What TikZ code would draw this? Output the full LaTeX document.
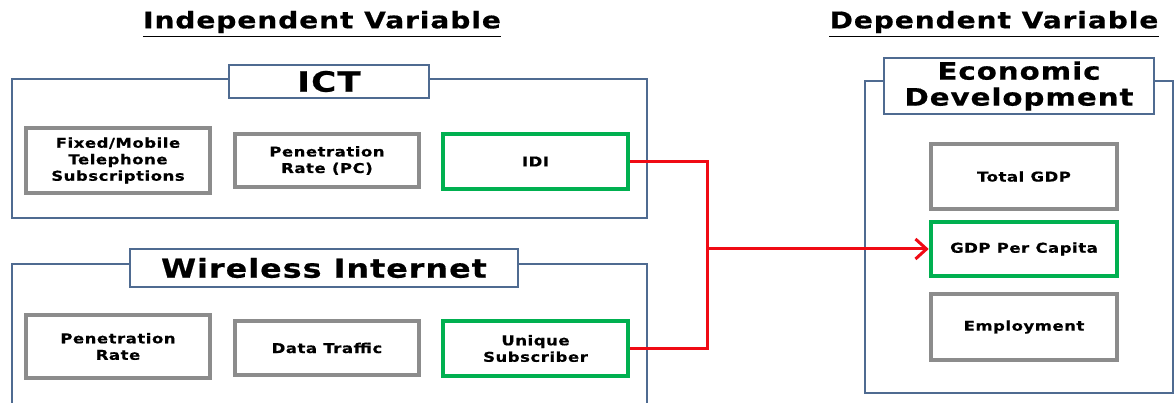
\documentclass[tikz,border=0pt]{standalone}
\usepackage{fontspec}
\setmainfont{DejaVu Sans}[FakeStretch=1.22,LetterSpace=4,FakeBold=0.6]
\usetikzlibrary{arrows.meta}
\definecolor{outerblue}{RGB}{79,107,145}
\definecolor{boxgray}{RGB}{140,140,140}
\definecolor{hlgreen}{RGB}{0,176,80}
\definecolor{linered}{RGB}{240,10,20}
\begin{document}
\begin{tikzpicture}[x=1pt,y=-1pt,
  outerbox/.style={draw=outerblue, line width=2.6pt, inner sep=0pt},
  titlebox/.style={draw=outerblue, line width=2.6pt, fill=white, inner sep=0pt, align=center, font=\bfseries},
  itembox/.style={draw=boxgray, line width=3.6pt, fill=white, inner sep=0pt, align=center,
     font=\bfseries\fontsize{13.5}{16.5}\selectfont},
  keybox/.style={itembox, draw=hlgreen, line width=4.6pt},
  header/.style={inner sep=0pt, font=\bfseries\fontsize{23}{26}\selectfont},
  redline/.style={draw=linered, line width=3pt}
]
\useasboundingbox (0,0) rectangle (1175,403);
\clip (0,0) rectangle (1175,403);
\fill[white] (0,0) rectangle (1175,403);

% headers
\node[header] (indep) at (322,22) {Independent Variable};
\node[header] (dep) at (994,22) {Dependent Variable};
\draw[line width=1.5pt] ([yshift=-3pt]indep.south west) -- ([yshift=-3pt]indep.south east);
\draw[line width=1.5pt] ([yshift=-3pt]dep.south west) -- ([yshift=-3pt]dep.south east);

% ICT group
\node[outerbox, minimum width=635pt, minimum height=139pt] (ictouter) at (329.5,148.5) {};
\node[titlebox, minimum width=200pt, minimum height=33pt, font=\bfseries\fontsize{28}{30}\selectfont] (icttitle) at (329,81.5) {ICT};
\node[itembox, minimum width=184pt, minimum height=65pt] (fixed) at (118,160.5) {Fixed/Mobile\\Telephone\\Subscriptions};
\node[itembox, minimum width=184pt, minimum height=53pt] (pcrate) at (327,160.5) {Penetration\\Rate (PC)};
\node[keybox, minimum width=185pt, minimum height=55pt] (idi) at (535.5,161.5) {IDI};

% Wireless group
\node[outerbox, minimum width=635pt, minimum height=166pt] (wlouter) at (329.5,347) {};
\node[titlebox, minimum width=388pt, minimum height=38pt, font=\bfseries\fontsize{26}{28}\selectfont] (wltitle) at (324,268) {Wireless Internet};
\node[itembox, minimum width=184pt, minimum height=63pt] (wlrate) at (118,346.5) {Penetration\\Rate};
\node[itembox, minimum width=184pt, minimum height=54pt] (traffic) at (327,348) {Data Traffic};
\node[keybox, minimum width=185pt, minimum height=55pt] (uniq) at (535.5,348.5) {Unique\\Subscriber};

% Economic development group
\node[outerbox, minimum width=308pt, minimum height=312pt] (ecoouter) at (1019,237) {};
\node[titlebox, minimum width=270pt, minimum height=56pt, font=\bfseries\fontsize{24}{26}\selectfont] (ecotitle) at (1019,86) {Economic\\Development};
\node[itembox, minimum width=186pt, minimum height=65pt] (total) at (1024,176.5) {Total GDP};
\node[keybox, minimum width=186pt, minimum height=54pt] (percap) at (1024,249) {GDP Per Capita};
\node[itembox, minimum width=186pt, minimum height=66pt] (employ) at (1024,327) {Employment};

% connectors
\coordinate (junc) at (707,249);
\draw[redline, line join=miter] (idi.east) -| (junc) |- (uniq.east);
\draw[redline, -{Straight Barb[length=11pt,width=20pt,line width=3pt]}] (junc) -- (percap.west);
\end{tikzpicture}
\end{document}
